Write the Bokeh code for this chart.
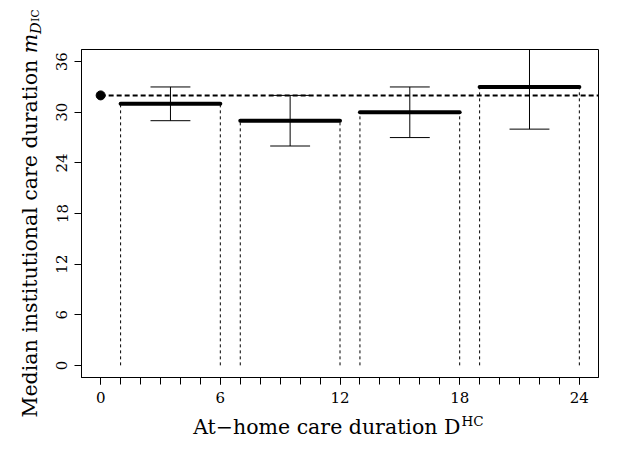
import math
from bokeh.plotting import figure
from bokeh.models import FixedTicker, Label, Range1d
from bokeh.embed import file_html
from bokeh.resources import INLINE

# ---- data ----
seg_start = [1, 7, 13, 19]
seg_end = [6, 12, 18, 24]
median_ic = [31, 29, 30, 33]
ci_low = [29, 26, 27, 28]
ci_high = [33, 32, 33, 39]
ci_mid = [3.5, 9.5, 15.5, 21.5]
ref_x = [0]
ref_median = [32]
x_ticks = [0, 6, 12, 18, 24]
x_minor = list(range(0, 25))
y_ticks = [0, 6, 12, 18, 24, 30, 36]
x_label_main = "At\u2212home care duration D"
x_label_sup = "HC"
y_label_main = "Median institutional care duration "
y_label_m = "m"
y_label_sub = "D"
y_label_subsup = "IC"

# ---- layout ----
W, H = 602, 441
LEFT, RIGHT, TOP, BOTTOM = 81, 4, 49, 64
X0, X1 = -0.96, 24.96
Y0, Y1 = -1.44, 37.44
fw = W - LEFT - RIGHT
fh = H - TOP - BOTTOM
CAP = 1.0
FONT = "DejaVu Serif"
MID = 0.35  # distance from baseline to the middle of the text box, in em


def px2x(px):
    return X0 + (px - LEFT) / fw * (X1 - X0)


def px2y(py):
    return Y0 + (H - BOTTOM - py) / fh * (Y1 - Y0)


def dx(px):
    return px / fw * (X1 - X0)


def dy(px):
    return px / fh * (Y1 - Y0)


p = figure(width=W, height=H, output_backend="svg", toolbar_location=None,
           x_range=Range1d(X0, X1), y_range=Range1d(Y0, Y1),
           min_border_left=LEFT, min_border_right=RIGHT,
           min_border_top=TOP, min_border_bottom=BOTTOM)
p.background_fill_color = "white"
p.border_fill_color = "white"
p.outline_line_color = "black"
p.outline_line_width = 1
p.outline_line_alpha = 1
p.xgrid.visible = False
p.ygrid.visible = False

p.xaxis.ticker = FixedTicker(ticks=x_ticks, minor_ticks=x_minor)
p.yaxis.ticker = FixedTicker(ticks=y_ticks, minor_ticks=[])
for ax in (p.xaxis, p.yaxis):
    ax.axis_line_color = "black"
    ax.major_tick_line_color = "black"
    ax.major_tick_out = 7
    ax.major_tick_in = 0
    ax.minor_tick_out = 7
    ax.minor_tick_in = 0
    ax.minor_tick_line_color = "black"
    ax.major_label_text_font = FONT
    ax.major_label_text_font_size = "15px"
    ax.major_label_text_color = "black"
    ax.major_label_standoff = 7
p.yaxis.major_label_orientation = "vertical"
p.yaxis.minor_tick_line_color = None

# dotted verticals at interval bounds
zeros = [0] * len(seg_start)
p.segment(x0=seg_start, y0=zeros, x1=seg_start, y1=median_ic,
          line_color="black", line_width=1, line_dash="3 3")
p.segment(x0=seg_end, y0=zeros, x1=seg_end, y1=median_ic,
          line_color="black", line_width=1, line_dash="3 3")

# thick median segments
p.segment(x0=seg_start, y0=median_ic, x1=seg_end, y1=median_ic,
          line_color="black", line_width=4, line_cap="round")

# error bars
p.segment(x0=ci_mid, y0=ci_low, x1=ci_mid, y1=ci_high,
          line_color="black", line_width=1)
p.segment(x0=[m - CAP for m in ci_mid], y0=ci_low,
          x1=[m + CAP for m in ci_mid], y1=ci_low,
          line_color="black", line_width=1)
p.segment(x0=[m - CAP for m in ci_mid], y0=ci_high,
          x1=[m + CAP for m in ci_mid], y1=ci_high,
          line_color="black", line_width=1)

# reference median (dashed) and point
p.segment(x0=ref_x, y0=ref_median, x1=[X1] * len(ref_x), y1=ref_median,
          line_color="black", line_width=2, line_dash="5 3")
p.scatter(x=ref_x, y=ref_median, size=9, color="black")

# ---- axis titles: pieces kept in the border panels so that they are not clipped ----
# x title
XS, XSUP = 20.5, 13.5
x_base = 434                      # canvas px of the baseline
main_w = 270 / 21 * XS
hc_w = 1.61 * XSUP
xa = 12 + dx(-(main_w + hc_w + 1) / 2 + main_w)
p.add_layout(Label(x=xa, y=px2y(x_base - MID * XS), text=x_label_main, text_font=FONT,
                   text_font_size=f"{XS}px", text_align="right",
                   text_baseline="middle", text_color="black"), "below")
p.add_layout(Label(x=xa + dx(1), y=px2y(x_base - 9 - MID * XSUP), text=x_label_sup,
                   text_font=FONT, text_font_size=f"{XSUP}px", text_align="left",
                   text_baseline="middle", text_color="black"), "above")

# y title (rotated, reading upwards)
YS, YSUB, YSS = 20.5, 14.5, 10.5
y_base = 37                       # canvas px of the baseline
ymain_w = 17.735 * YS
m_w = 0.947 * YS
dsub_w = 0.77 * YSUB
ic_w = 1.2 * YSS
ytotal = ymain_w + m_w + dsub_w + ic_w
center_px = TOP + fh / 2
ya = px2y(center_px + ytotal / 2 - ymain_w)
ang = math.pi / 2
p.add_layout(Label(x=px2x(y_base - MID * YS), y=ya, text=y_label_main, text_font=FONT,
                   text_font_size=f"{YS}px", text_align="right", angle=ang,
                   text_baseline="middle", text_color="black"), "left")
p.add_layout(Label(x=px2x(y_base - MID * YS), y=ya, text=y_label_m, text_font=FONT,
                   text_font_style="italic",
                   text_font_size=f"{YS}px", text_align="left", angle=ang,
                   text_baseline="middle", text_color="black"), "left")
p.add_layout(Label(x=px2x(y_base + 4 - MID * YSUB), y=ya + dy(m_w), text=y_label_sub,
                   text_font=FONT, text_font_style="italic",
                   text_font_size=f"{YSUB}px", text_align="left", angle=ang,
                   text_baseline="middle", text_color="black"), "above")
p.add_layout(Label(x=px2x(y_base + 1.5 - MID * YSS), y=ya + dy(m_w + dsub_w + 1),
                   text=y_label_subsup, text_font=FONT, text_font_size=f"{YSS}px",
                   text_align="left", angle=ang,
                   text_baseline="middle", text_color="black"), "above")

open("out.html", "w").write(file_html(p, INLINE))
